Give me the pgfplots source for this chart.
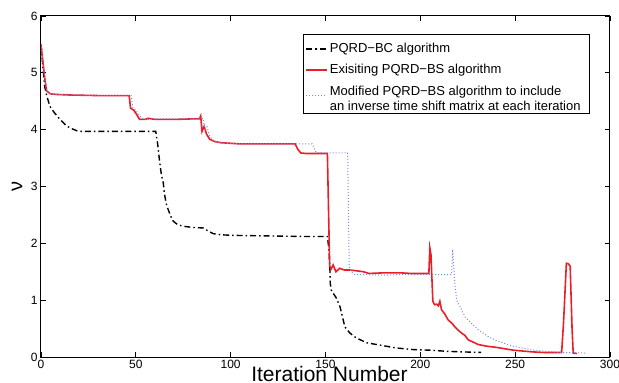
\documentclass[border=0pt]{standalone}
\usepackage{fontspec}
\setmainfont{Liberation Sans}
\usepackage{pgfplots}
\pgfplotsset{compat=1.18}
\definecolor{mred}{RGB}{235,30,40}
\definecolor{mblue}{RGB}{120,140,220}
\begin{document}
\begin{tikzpicture}
\begin{axis}[
  scale only axis,
  width=569pt, height=341pt,
  xmin=0, xmax=300, ymin=0, ymax=6,
  xtick={0,50,...,300}, ytick={0,1,...,6},
  tick align=inside, xtick pos=both, ytick pos=both,
  major tick length=5pt,
  axis line style={line width=1pt},
  every tick/.style={black, line width=0.8pt},
  /pgf/number format/assume math mode=true,
  ticklabel style={font=\fontsize{12}{14}\selectfont},
  xlabel={Iteration Number},
  ylabel={ν},
  xlabel style={at={(axis description cs:0.507,0)}, anchor=base, yshift=-24pt, inner sep=0pt, font=\fontsize{21}{24}\selectfont},
  ylabel style={at={(axis description cs:-0.0422,0.5)}, anchor=center, rotate=0, font=\fontsize{20}{24}\selectfont},
  legend style={at={(rel axis cs:0.9649,0.9472)}, anchor=north east, draw=black, line width=0.9pt,
    font=\fontsize{13}{15}\selectfont, legend cell align=left, inner xsep=2pt, inner ysep=7pt, row sep=6pt,
    /tikz/every even column/.append style={column sep=4pt}},
  legend image code/.code={\draw[mark repeat=2,mark phase=2] plot coordinates {(0pt,0pt) (10.5pt,0pt) (21pt,0pt)};},
]
\addplot[black, line width=1.4pt, dash pattern=on 6pt off 3pt on 1.5pt off 3pt] coordinates {
(0,5.5)(1,5.1)(2,4.75)(3,4.6)(4.7,4.41)(7,4.3)(10,4.18)(13,4.08)(15.3,4.03)(19.7,3.97)(30,3.97)(45,3.97)(60.5,3.97)
(61.5,3.75)(62.5,3.45)(63.5,3.2)(64.5,3.06)(65,2.89)(66,2.7)(67.1,2.59)(68.5,2.47)(69.7,2.39)(72,2.33)(75,2.3)(80,2.28)
(85.6,2.27)(88,2.22)(90.8,2.17)(95,2.15)(101.4,2.14)(120,2.13)(140,2.12)(151,2.12)(151.8,1.9)(152.3,1.59)(152.5,1.3)
(153,1.18)(154.1,1.12)(155.5,1.05)(157.6,0.89)(159,0.7)(160.2,0.53)(162.9,0.42)(166,0.34)(171.7,0.25)(178.7,0.21)
(187,0.16)(196.3,0.13)(205,0.12)(214,0.1)(222,0.09)(232,0.08)
};
\addlegendentry{PQRD−BC algorithm}
\addplot[mred, line width=1.6pt] coordinates {
(0,5.5)(1,5.2)(2,4.9)(3,4.68)(5,4.63)(8,4.62)(15,4.61)(30,4.6)(46.5,4.6)(47.2,4.38)(49,4.34)(50.4,4.27)(52,4.18)
(54.8,4.18)(56.6,4.2)(60,4.18)(70,4.18)(80,4.19)(83.6,4.19)(84.2,4.24)(84.9,3.97)(86,4.06)(87.3,3.92)(89,3.83)
(91.7,3.79)(95,3.77)(105,3.75)(134,3.75)(135.5,3.65)(137,3.59)(140,3.58)(151,3.58)(152.2,1.6)(153,1.55)(154,1.62)
(155.5,1.5)(157.5,1.56)(160,1.53)(163,1.53)(168,1.51)(170,1.5)(173,1.47)(180,1.48)(190,1.48)(195,1.47)(204.5,1.47)
(205,1.92)(205.6,1.8)(206.6,0.98)(207.5,0.92)(208.6,0.93)(209.5,0.9)(210.3,0.98)(211.2,0.83)(213,0.75)(214.7,0.65)
(216.5,0.6)(218.2,0.53)(220,0.47)(221.8,0.42)(223.5,0.38)(225.3,0.3)(228,0.26)(230.5,0.22)(235,0.19)(240,0.17)
(249,0.12)(259,0.09)(265,0.08)(274.5,0.08)(275.5,0.6)(277,1.65)(278,1.64)(279,1.6)(280,0.5)(280.6,0.07)(282.5,0.06)
};
\addlegendentry{Exisiting PQRD−BS algorithm}
\addplot[mblue, line width=1pt, dash pattern=on 1pt off 2pt] coordinates {
(0,5.5)(1,5.2)(2,4.9)(3,4.68)(5,4.63)(8,4.62)(15,4.61)(30,4.6)(47.5,4.6)(48.5,4.38)(50,4.34)(51.5,4.27)(53,4.2)
(56,4.18)(60,4.19)(70,4.19)(84.8,4.19)(85.5,4.2)(86.5,3.98)(87.5,4.05)(88.8,3.9)(90.5,3.82)(93,3.78)(97,3.76)
(105,3.75)(143,3.75)(145,3.6)(150,3.59)(161.7,3.59)(162.5,1.6)(163.5,1.5)(165.5,1.45)(170,1.45)(180,1.44)(190,1.45)
(200,1.45)(216.5,1.45)(217,1.89)(218.2,1.3)(219.1,1.0)(220.9,0.89)(223.5,0.71)(227,0.59)(230.5,0.48)(235.8,0.36)
(239.3,0.3)(245,0.23)(249,0.19)(259.5,0.12)(273.6,0.08)(286.8,0.07)
};
\addlegendentry{\begin{tabular}{@{}l@{\hspace{5pt}}}Modified PQRD−BS algorithm to include\\an inverse time shift matrix at each iteration\end{tabular}}
\end{axis}
\pgfresetboundingbox
\path[use as bounding box] (-41pt,-26pt) rectangle (578pt,357pt);
\end{tikzpicture}
\end{document}
